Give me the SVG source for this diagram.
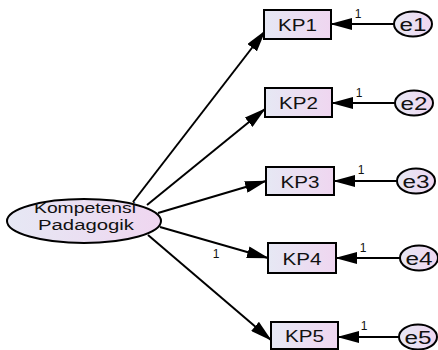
<svg xmlns="http://www.w3.org/2000/svg" width="438" height="350" viewBox="0 0 438 350">
  <defs>
    <linearGradient id="fill" x1="0" y1="0" x2="1" y2="0">
      <stop offset="0" stop-color="#e6e8f4"/>
      <stop offset="1" stop-color="#efd6f0"/>
    </linearGradient>
    <marker id="ah" markerWidth="22" markerHeight="12" refX="21" refY="6" orient="auto" markerUnits="userSpaceOnUse">
      <path d="M0,0 L22,6 L0,12 z" fill="#000"/>
    </marker>
  </defs>
  <style>
    .shape { fill: url(#fill); stroke: #000; stroke-width: 2; }
    .lbl { font-family: "Liberation Sans", Arial, sans-serif; fill: #111; text-anchor: middle; }
    .box-t { font-size: 17px; }
    .err-t { font-size: 18px; }
    .lat-t { font-size: 14px; }
    .w { font-family: "Liberation Sans", Arial, sans-serif; font-size: 12px; fill: #111; text-anchor: middle; }
    .con line { stroke: #000; stroke-width: 2; marker-end: url(#ah); }
  </style>
  <rect width="438" height="350" fill="#fff"/>

  <g id="connectors" class="con">
    <line x1="133" y1="202" x2="265" y2="31"/>
    <line x1="147" y1="205" x2="265" y2="109"/>
    <line x1="158" y1="213" x2="266" y2="181"/>
    <line x1="160" y1="227" x2="268" y2="258"/>
    <line x1="148" y1="235" x2="271" y2="340"/>
    <line x1="394" y1="24" x2="331" y2="24"/>
    <line x1="395" y1="103" x2="332" y2="103"/>
    <line x1="397" y1="181" x2="334" y2="181"/>
    <line x1="400" y1="258" x2="336" y2="258"/>
    <line x1="399" y1="337" x2="338" y2="337"/>
  </g>

  <g id="weights">
    <text class="w" x="358" y="18">1</text>
    <text class="w" x="359" y="97">1</text>
    <text class="w" x="361" y="174">1</text>
    <text class="w" x="363" y="252">1</text>
    <text class="w" x="364" y="330">1</text>
    <text class="w" x="216" y="258">1</text>
  </g>

  <g id="kompetensi-padagogik">
    <ellipse class="shape" cx="84" cy="221" rx="77" ry="22"/>
    <text class="lbl lat-t" x="85" y="213" textLength="102" lengthAdjust="spacingAndGlyphs">Kompetensi</text>
    <text class="lbl lat-t" x="86" y="230" textLength="96" lengthAdjust="spacingAndGlyphs">Padagogik</text>
  </g>

  <g id="KP1">
    <rect class="shape" x="264" y="10" width="67" height="29"/>
    <text class="lbl box-t" x="297.5" y="30.5" textLength="39" lengthAdjust="spacingAndGlyphs">KP1</text>
  </g>
  <g id="KP2">
    <rect class="shape" x="265" y="88" width="67" height="29"/>
    <text class="lbl box-t" x="298.5" y="108.5" textLength="39" lengthAdjust="spacingAndGlyphs">KP2</text>
  </g>
  <g id="KP3">
    <rect class="shape" x="266" y="167" width="68" height="28"/>
    <text class="lbl box-t" x="300" y="187.5" textLength="39" lengthAdjust="spacingAndGlyphs">KP3</text>
  </g>
  <g id="KP4">
    <rect class="shape" x="268" y="243" width="68" height="30"/>
    <text class="lbl box-t" x="302" y="264.5" textLength="39" lengthAdjust="spacingAndGlyphs">KP4</text>
  </g>
  <g id="KP5">
    <rect class="shape" x="271" y="322" width="67" height="27"/>
    <text class="lbl box-t" x="304.5" y="342" textLength="39" lengthAdjust="spacingAndGlyphs">KP5</text>
  </g>

  <g id="e1">
    <ellipse class="shape" cx="413" cy="24" rx="19" ry="12.5"/>
    <text class="lbl err-t" x="413" y="30.5" textLength="27" lengthAdjust="spacingAndGlyphs">e1</text>
  </g>
  <g id="e2">
    <ellipse class="shape" cx="414" cy="103" rx="19" ry="12.5"/>
    <text class="lbl err-t" x="414" y="109.5" textLength="27" lengthAdjust="spacingAndGlyphs">e2</text>
  </g>
  <g id="e3">
    <ellipse class="shape" cx="416" cy="181" rx="19" ry="12.5"/>
    <text class="lbl err-t" x="416" y="187.5" textLength="27" lengthAdjust="spacingAndGlyphs">e3</text>
  </g>
  <g id="e4">
    <ellipse class="shape" cx="419" cy="258" rx="19" ry="12.5"/>
    <text class="lbl err-t" x="419" y="264.5" textLength="27" lengthAdjust="spacingAndGlyphs">e4</text>
  </g>
  <g id="e5">
    <ellipse class="shape" cx="418" cy="337" rx="19" ry="12.5"/>
    <text class="lbl err-t" x="418" y="343.5" textLength="27" lengthAdjust="spacingAndGlyphs">e5</text>
  </g>
</svg>
